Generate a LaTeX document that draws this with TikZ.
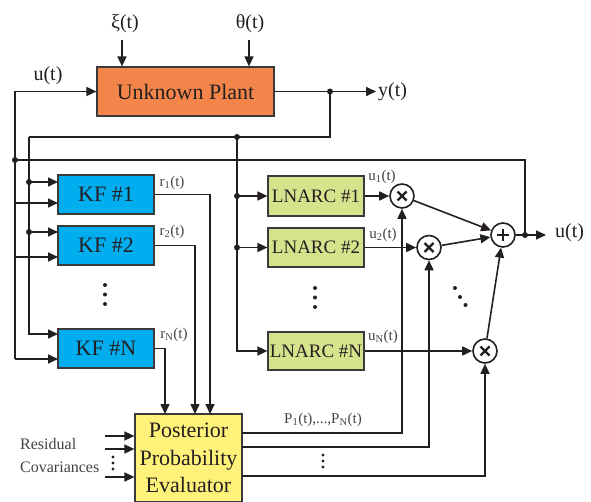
\documentclass[tikz,border=0pt]{standalone}
\usepackage{fontspec}
\setmainfont{Liberation Serif}
\usetikzlibrary{arrows.meta}
\definecolor{ink}{HTML}{231F20}
\definecolor{edge}{HTML}{3A3A3A}
\definecolor{plantfill}{HTML}{F4854A}
\definecolor{kffill}{HTML}{00AEEF}
\definecolor{ctrlfill}{HTML}{D7E38C}
\definecolor{evalfill}{HTML}{FFF27A}

\tikzset{
  wire/.style={draw=ink, line width=1.6pt},
  arr/.style={wire, -{Triangle[length=10pt,width=9pt]}},
  block/.style={draw=edge, line width=1.2pt, inner sep=0pt, text=ink, minimum width=96pt},
  kfbox/.style={block, fill=kffill, minimum height=39pt, font=\fontsize{22}{24}\selectfont},
  ctrlbox/.style={block, fill=ctrlfill, minimum height=39pt, font=\fontsize{19}{21}\selectfont},
  opcircle/.style={circle, draw=ink, line width=1.6pt, fill=white, minimum size=24pt, inner sep=0pt},
  opmark/.style={draw=ink, line width=2.4pt},
  lbl/.style={text=ink, inner sep=0pt, font=\fontsize{20}{22}\selectfont},
  sublbl/.style={text=ink!85, inner sep=0pt, font=\fontsize{15}{17}\selectfont},
  notelbl/.style={text=ink!85, inner sep=0pt, anchor=west, font=\fontsize{16}{18}\selectfont},
}

\begin{document}
\begin{tikzpicture}[x=1pt,y=-1pt]
\useasboundingbox (0,0) rectangle (591,502);

% ---- blocks ----
\node[block, fill=plantfill, minimum width=177pt, minimum height=49pt,
      font=\fontsize{22}{24}\selectfont] (plant) at (185.5,91.5) {Unknown Plant};
\node[kfbox] (kf1) at (106,194.5) {KF \#1};
\node[kfbox] (kf2) at (106,245.5) {KF \#2};
\node[kfbox] (kfN) at (106,348.5) {KF \#N};
\node[ctrlbox, minimum height=40pt] (c1) at (316,196) {LNARC \#1};
\node[ctrlbox] (c2) at (316,247.5) {LNARC \#2};
\node[ctrlbox, minimum height=38pt] (cN) at (316,351) {LNARC \#N};
\node[block, fill=evalfill, minimum width=107pt, minimum height=88pt, align=center,
      font=\fontsize{22}{27.5}\selectfont] (ev) at (188.5,458) {Posterior\\Probability\\Evaluator};

% ---- multipliers and summer ----
\node[opcircle] (m1) at (402,196) {};
\node[opcircle] (m2) at (429,247.5) {};
\node[opcircle] (mN) at (485,351) {};
\node[opcircle] (sum) at (503,235) {};
\foreach \m in {m1,m2,mN}{
  \draw[opmark] ([shift={(-4.5,-4.5)}]\m.center) -- ([shift={(4.5,4.5)}]\m.center);
  \draw[opmark] ([shift={(-4.5,4.5)}]\m.center) -- ([shift={(4.5,-4.5)}]\m.center);
}
\draw[opmark] ([shift={(-6,0)}]sum.center) -- ([shift={(6,0)}]sum.center);
\draw[opmark] ([shift={(0,-6)}]sum.center) -- ([shift={(0,6)}]sum.center);

% ---- routing points ----
\coordinate (busU) at (15,359);
\coordinate (busFb) at (15,160);
\coordinate (out) at (525,235);
\coordinate (uEnd) at (546,235);
\coordinate (yTap) at (330,91.5);
\coordinate (yEnd) at (376,91.5);
\coordinate (yCorner) at (29,137);
\coordinate (ctrlTap) at (237,137);
\coordinate (k1a) at (58,182);
\coordinate (k1b) at (58,203);
\coordinate (k2a) at (58,232);
\coordinate (k2b) at (58,257);
\coordinate (kNa) at (58,334);
\coordinate (kNb) at (58,359);
\coordinate (e1) at (210,414);
\coordinate (e2) at (195,414);
\coordinate (eN) at (165,414);
\coordinate (p1) at (242,433);
\coordinate (p2) at (242,447);
\coordinate (pN) at (242,476);
\coordinate (rc1) at (105,436);
\coordinate (rc2) at (105,449);
\coordinate (rcN) at (105,477);
\coordinate (xiS) at (122,40);
\coordinate (thS) at (249,40);

% ---- plant inputs and output ----
\draw[arr] (xiS) -- (xiS |- plant.north);
\draw[arr] (thS) -- (thS |- plant.north);
\draw[arr] (busU) |- (plant.west);
\draw[arr] (plant.east) -- (yEnd);

% ---- control signal feedback into the filter bank ----
\draw[wire] (out) |- (busFb);
\draw[arr] (busU |- k1b) -- (k1b);
\draw[arr] (busU |- k2b) -- (k2b);
\draw[arr] (busU) -- (kNb);

% ---- measured output into filters and controllers ----
\draw[wire] (yTap) |- (yCorner);
\draw[arr] (yCorner) |- (kNa);
\draw[arr] (yCorner |- k1a) -- (k1a);
\draw[arr] (yCorner |- k2a) -- (k2a);
\draw[arr] (ctrlTap) |- (cN.west);
\draw[arr] (ctrlTap |- c1.west) -- (c1.west);
\draw[arr] (ctrlTap |- c2.west) -- (c2.west);

% ---- residuals to the evaluator ----
\draw[arr] (kf1.east) -| (e1);
\draw[arr] (kf2.east) -| (e2);
\draw[arr] (kfN.east) -| (eN);
\draw[arr] (rc1) -- (rc1 -| ev.west);
\draw[arr] (rc2) -- (rc2 -| ev.west);
\draw[arr] (rcN) -- (rcN -| ev.west);

% ---- weighting and summation ----
\draw[arr] (c1.east) -- (m1.west);
\draw[arr] (c2.east) -- (m2.west);
\draw[arr] (cN.east) -- (mN.west);
\draw[arr] (p1) -| (m1.south);
\draw[arr] (p2) -| (m2.south);
\draw[arr] (pN) -| (mN.south);
\draw[arr] (m1) -- (sum);
\draw[arr] (m2) -- (sum);
\draw[arr] (mN) -- (sum);
\draw[wire] (sum) -- (out);
\draw[arr] (out) -- (uEnd);

% ---- junction dots ----
\foreach \j in {busFb, yTap, ctrlTap, out}
  \fill[ink] (\j) circle (3pt);
\fill[ink] (yCorner |- k1a) circle (3pt);
\fill[ink] (yCorner |- k2a) circle (3pt);
\fill[ink] (ctrlTap |- c1.west) circle (3pt);
\fill[ink] (ctrlTap |- c2.west) circle (3pt);

% ---- ellipsis dots ----
\foreach \y in {285,294.5,304} \fill[ink] (105,\y) circle (2pt);
\foreach \y in {288,297.5,307} \fill[ink] (315,\y) circle (2pt);
\foreach \x/\y in {455/288,460/297,465.5/305} \fill[ink] (\x,\y) circle (2pt);
\foreach \y in {457,463,469} \fill[ink] (113,\y) circle (1.6pt);
\foreach \y in {455,461,467} \fill[ink] (323,\y) circle (1.6pt);

% ---- labels ----
\node[lbl] (xiL) at (125,24) {ξ(t)};
\node[lbl] (thL) at (250,24) {θ(t)};
\node[lbl] (uInL) at (48,76) {u(t)};
\node[lbl, anchor=west] (yL) at (378,92) {y(t)};
\node[lbl, anchor=west] (uOutL) at (555,233) {u(t)};
\node[sublbl] (r1L) at (172,183) {r\textsubscript{1}(t)};
\node[sublbl] (r2L) at (172,232) {r\textsubscript{2}(t)};
\node[sublbl] (rNL) at (174,335) {r\textsubscript{N}(t)};
\node[sublbl] (u1L) at (382,177) {u\textsubscript{1}(t)};
\node[sublbl] (u2L) at (383,235) {u\textsubscript{2}(t)};
\node[sublbl] (uNL) at (383,337) {u\textsubscript{N}(t)};
\node[sublbl] (pL) at (323,420) {P\textsubscript{1}(t),...,P\textsubscript{N}(t)};
\node[notelbl] (resL) at (20,444) {Residual};
\node[notelbl] (covL) at (20,467) {Covariances};
\end{tikzpicture}
\end{document}
